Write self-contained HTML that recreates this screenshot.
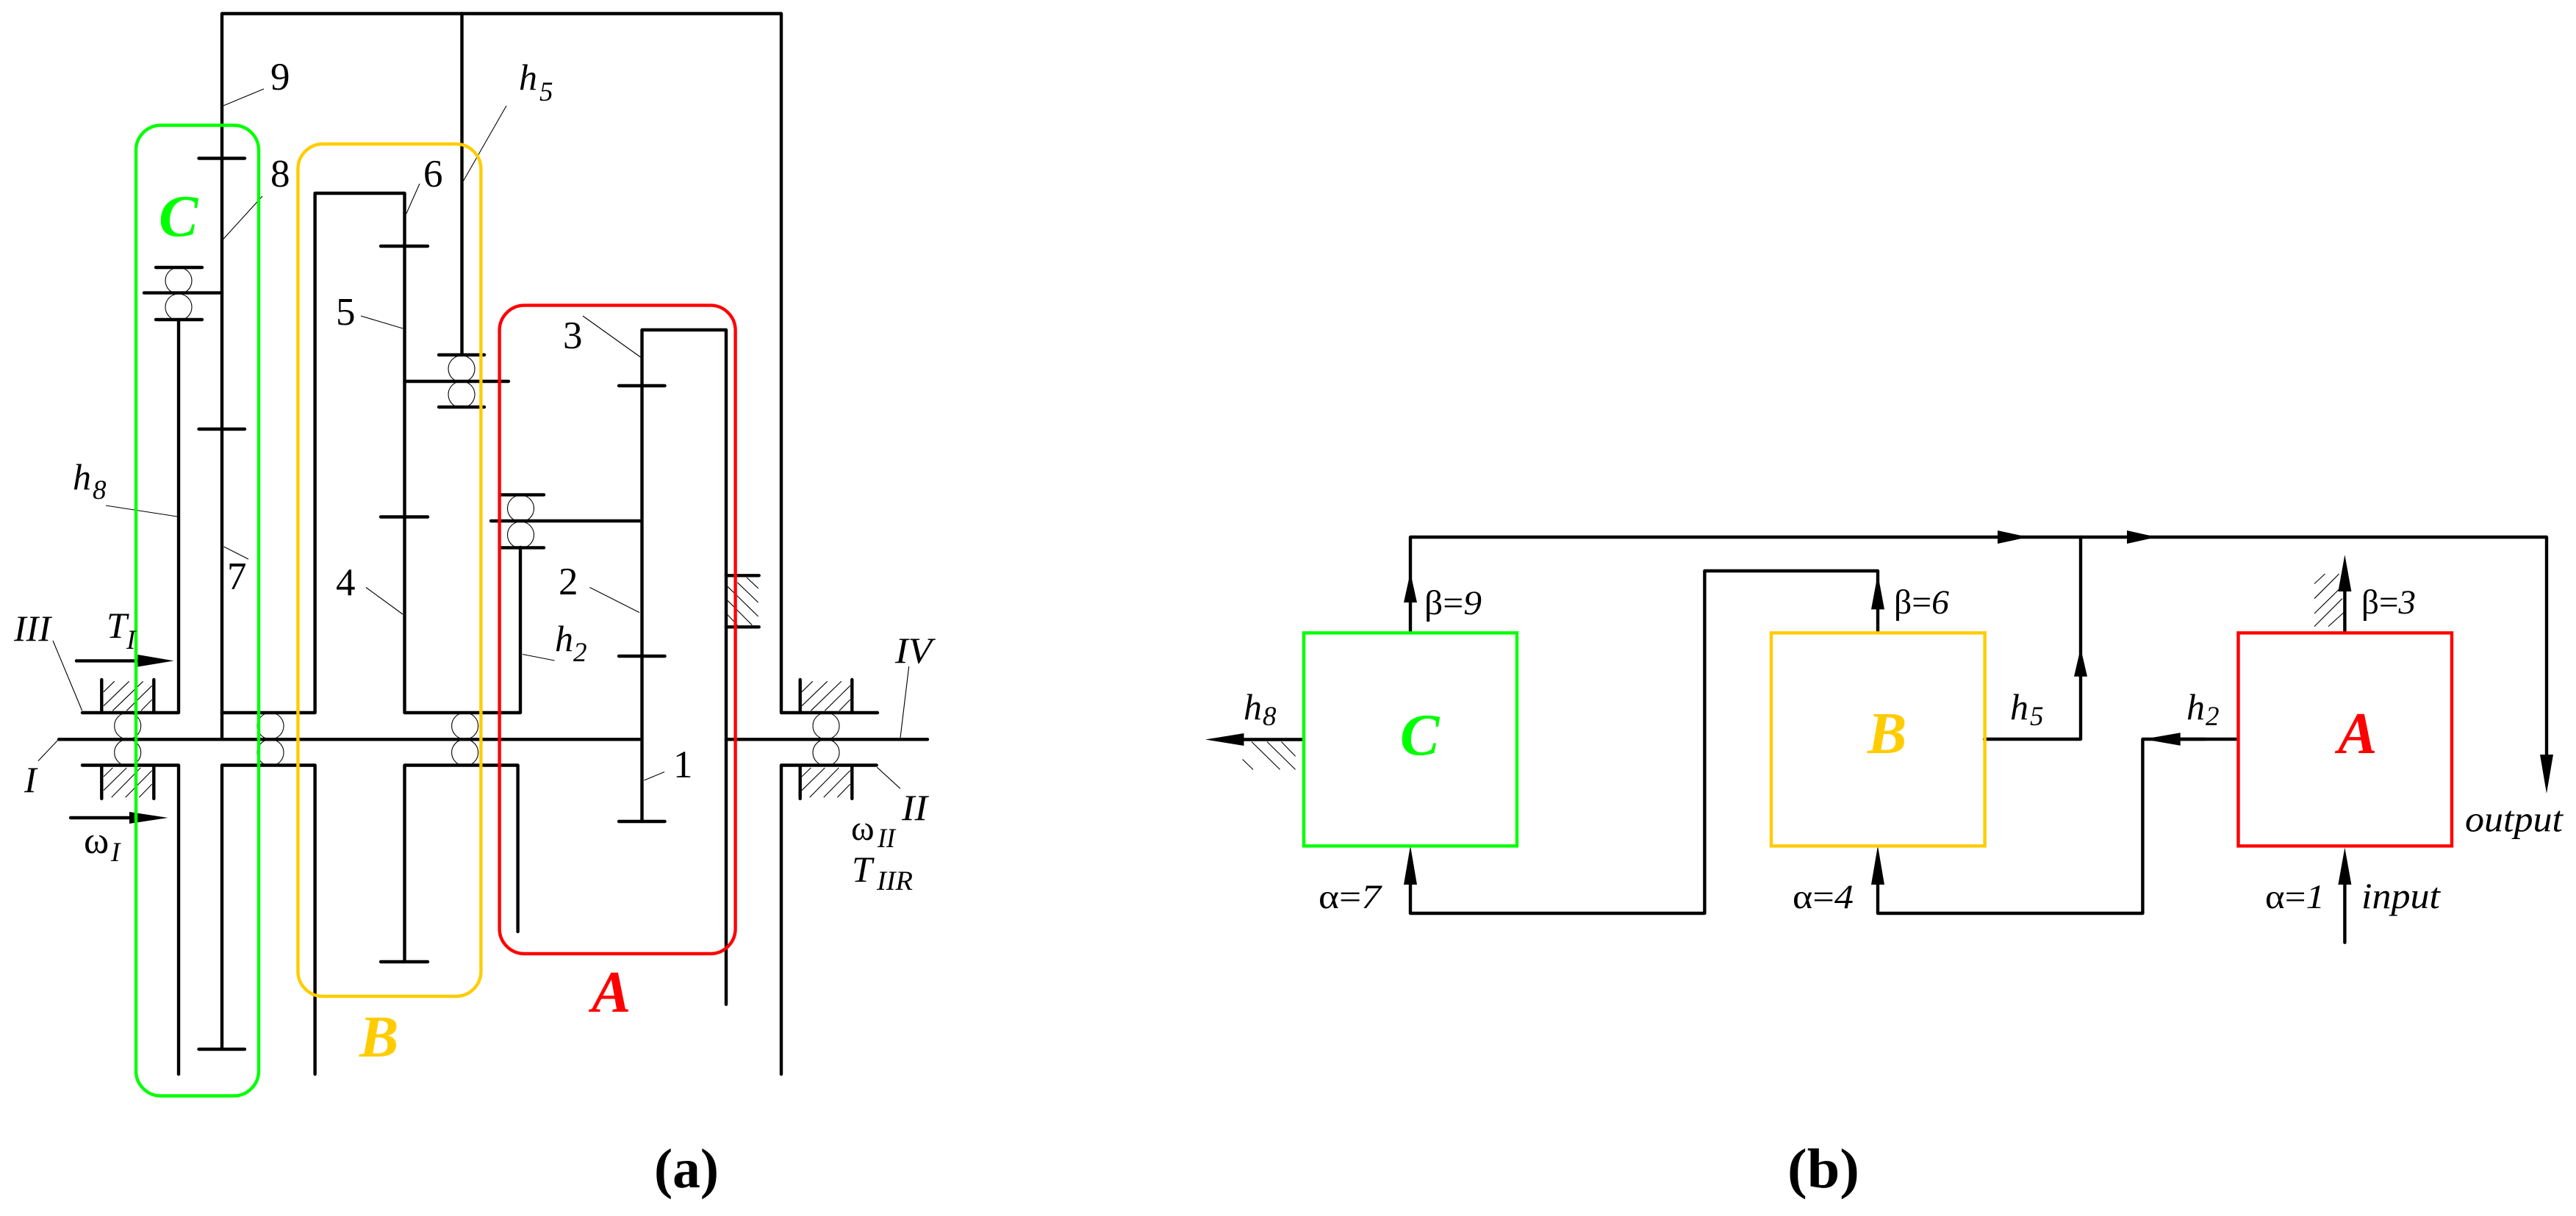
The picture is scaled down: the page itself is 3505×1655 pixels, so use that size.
<!DOCTYPE html>
<html><head><meta charset="utf-8"><style>
html,body{margin:0;padding:0;background:#fff}
svg{display:block}
text{font-family:"Liberation Serif",serif;fill:#000}
.k{fill:none;stroke:#000;stroke-width:4.4;stroke-linecap:round;stroke-linejoin:round}
.t{fill:none;stroke:#000;stroke-width:1.1}
.i{font-style:italic}
.n{font-size:53px}
.m{font-size:50px;font-style:italic}
.s{font-size:37px;font-style:italic}
.g{font-size:80px;font-style:italic;font-weight:bold}
</style></head><body>
<svg xmlns="http://www.w3.org/2000/svg" width="3505" height="1655" viewBox="0 0 3505 1655">
<!-- (a) black structure -->
<g class="k">
<polyline points="302,1006 302,970 302,18.5 1063,18.5 1063,970 1194,970"/>
<line x1="628.5" y1="18.5" x2="628.5" y2="483"/>
<polyline points="302,970 428.6,970 428.6,263 550.5,263 550.5,970 708,970 708,745"/>
<polyline points="112,970 243,970 243,435"/>
<polyline points="112,1041.5 243,1041.5 243,1462"/>
<polyline points="333,1428 270.5,1428 302,1428 302,1041.5 428.6,1041.5 428.6,1462"/>
<polyline points="550.5,1309 550.5,1041.5 704.6,1041.5 704.6,1268"/>
<line x1="518" y1="1309" x2="582" y2="1309"/>
<line x1="80" y1="1006.3" x2="870" y2="1006.3"/>
<line x1="988" y1="1006.3" x2="1262" y2="1006.3"/>
<polyline points="1192.7,1041.5 1063,1041.5 1063,1462"/>
<polyline points="873.5,1118 873.5,449 988,449 988,1367"/>
<line x1="842" y1="525" x2="904.6" y2="525"/>
<line x1="842" y1="893" x2="904.6" y2="893"/>
<line x1="842" y1="1118" x2="904.6" y2="1118"/>
<line x1="668" y1="709" x2="873" y2="709"/>
<line x1="682" y1="673.4" x2="740" y2="673.4"/>
<line x1="682" y1="745.4" x2="740" y2="745.4"/>
<line x1="597" y1="483" x2="659" y2="483"/>
<line x1="597" y1="554" x2="659" y2="554"/>
<line x1="550.5" y1="519" x2="692" y2="519"/>
<line x1="212" y1="364" x2="275" y2="364"/>
<line x1="212" y1="435" x2="275" y2="435"/>
<line x1="196" y1="398.6" x2="302" y2="398.6"/>
<line x1="270.5" y1="215.5" x2="333" y2="215.5"/>
<line x1="270.5" y1="584" x2="333" y2="584"/>
<line x1="518" y1="335" x2="582" y2="335"/>
<line x1="518" y1="703.5" x2="582" y2="703.5"/>
<line x1="988" y1="783.3" x2="1032.7" y2="783.3"/>
<line x1="988" y1="853.3" x2="1032.7" y2="853.3"/>
<line x1="138.3" y1="925" x2="138.3" y2="970"/>
<line x1="209.3" y1="925" x2="209.3" y2="970"/>
<line x1="138.3" y1="1042" x2="138.3" y2="1087"/>
<line x1="209.3" y1="1042" x2="209.3" y2="1087"/>
<line x1="1088.7" y1="925" x2="1088.7" y2="970"/>
<line x1="1159.3" y1="925" x2="1159.3" y2="970"/>
<line x1="1088.7" y1="1042" x2="1088.7" y2="1087"/>
<line x1="1159.3" y1="1042" x2="1159.3" y2="1087"/>
<line x1="104" y1="899.4" x2="200" y2="899.4"/>
<line x1="96" y1="1113" x2="190" y2="1113"/>
</g>
<polygon points="187.5,891 236.6,899.4 187.5,907.5" fill="#000"/>
<polygon points="176,1105 228.6,1113 176,1121" fill="#000"/>
<!-- bearings -->
<g class="t">
<circle cx="243" cy="382" r="18"/><circle cx="243" cy="418" r="18"/>
<circle cx="628" cy="502" r="18"/><circle cx="628" cy="537" r="18"/>
<circle cx="708.5" cy="692" r="18"/><circle cx="708.5" cy="728" r="18"/>
<circle cx="173.7" cy="988" r="18"/><circle cx="173.7" cy="1024.3" r="18"/>
<circle cx="368" cy="988" r="18"/><circle cx="368" cy="1024.3" r="18"/>
<circle cx="632.6" cy="988" r="18"/><circle cx="632.6" cy="1024.3" r="18"/>
<circle cx="1124" cy="988" r="18"/><circle cx="1124" cy="1024.3" r="18"/>
<!-- hatching -->
<g>
<path d="M141 941.7L155.7 927.3M141 960.7L175.7 927.3M153.3 967.3L194.7 927.3M172.3 967.3L206.7 933.3M192 967.3L206.7 952.3"/>
<path d="M141 1057L153.3 1045M141 1075.7L172.3 1045M151.7 1085.3L191.3 1045M170.7 1085.3L206.7 1048.7M189.3 1085.3L206.7 1067.3"/>
</g>
<g transform="translate(950 0)">
<path d="M141 941.7L155.7 927.3M141 960.7L175.7 927.3M153.3 967.3L194.7 927.3M172.3 967.3L206.7 933.3M192 967.3L206.7 952.3"/>
<path d="M141 1057L153.3 1045M141 1075.7L172.3 1045M151.7 1085.3L191.3 1045M170.7 1085.3L206.7 1048.7M189.3 1085.3L206.7 1067.3"/>
</g>
<path d="M1016 786L1031.7 800.7M1003.3 792.7L1031.7 820M990 798.3L1031.7 839M990 817.3L1023.3 850.7M990 836.7L1003.3 850.7"/>
<!-- leaders -->
<path d="M303.6 144L359 121M303.6 325.6L357 267M552.7 291L571 250M630.6 246L689 144M491 430L548 447M144 688L241 703M304.5 744L338 761M498 799.5L548 836M72 872L111.6 967M52 1035.6L80 1006M793 430L871.4 486M802.5 799.5L870 833.6M711 890.5L754.6 899M876.5 1062L904 1050.6M1236.7 907L1225 1004M1193.3 1044.3L1225 1073.3"/>
<!-- (b) hatching -->
<path d="M1703 1009.5L1741.6 1047.4M1724 1009.5L1762.6 1047.4M1743.5 1009.5L1762.6 1029.3M1690.6 1033.5L1705 1047.4"/>
<path d="M3149 794.5L3163.5 781M3149 814.7L3182.7 781M3149 835L3182.7 802M3149 852.6L3187 814.7M3168 852.6L3189 833.6"/>
</g>
<!-- coloured groups -->
<rect x="185" y="170.5" width="167" height="1321" rx="34" ry="34" fill="none" stroke="#00ff00" stroke-width="4.4"/>
<rect x="405.4" y="196" width="249" height="1160" rx="34" ry="34" fill="none" stroke="#ffcc00" stroke-width="4.4"/>
<rect x="679.6" y="415.6" width="321" height="882.4" rx="34" ry="34" fill="none" stroke="#ff0000" stroke-width="4.4"/>
<!-- (a) labels -->
<text class="n" x="368" y="122">9</text>
<text class="n" x="368" y="254">8</text>
<text class="n" x="576" y="254">6</text>
<text class="n" x="457" y="442">5</text>
<text class="n" x="309" y="802">7</text>
<text class="n" x="457" y="810">4</text>
<text class="n" x="766" y="474">3</text>
<text class="n" x="760" y="809">2</text>
<text class="n" x="916" y="1058">1</text>
<text class="m" x="99" y="666">h</text><text class="s" x="126" y="679">8</text>
<text class="m" x="706" y="122">h</text><text class="s" x="734" y="137">5</text>
<text class="m" x="755" y="886">h</text><text class="s" x="780" y="900">2</text>
<text class="g" x="216" y="321" style="fill:#00ff00">C</text>
<text class="g" x="489" y="1438" style="fill:#ffcc00">B</text>
<text class="g" x="805" y="1377" style="fill:#ff0000">A</text>
<text class="m" x="19" y="872" textLength="50" lengthAdjust="spacingAndGlyphs">III</text>
<text class="m" x="145" y="868">T</text><text class="s" x="172" y="883">I</text>
<text class="m" x="33" y="1078">I</text>
<text x="114" y="1161" font-size="52">ω</text><text class="s" x="151" y="1172">I</text>
<text class="m" x="1218" y="902" textLength="50" lengthAdjust="spacingAndGlyphs">IV</text>
<text class="m" x="1227" y="1116" textLength="35" lengthAdjust="spacingAndGlyphs">II</text>
<text x="1158" y="1143" font-size="48">ω</text><text class="s" x="1194" y="1153" textLength="24" lengthAdjust="spacingAndGlyphs">II</text>
<text class="m" x="1159" y="1200">T</text><text class="s" x="1193" y="1211" textLength="49" lengthAdjust="spacingAndGlyphs">IIR</text>
<text x="890" y="1616" font-size="76" font-weight="bold" textLength="88" lengthAdjust="spacingAndGlyphs">(a)</text>
<text x="2432" y="1616" font-size="76" font-weight="bold" textLength="98" lengthAdjust="spacingAndGlyphs">(b)</text>
<!-- (b) connectors -->
<g class="k">
<polyline points="1919,861 1919,731 3465,731 3465,1050"/>
<polyline points="1919,1180 1919,1243 2319.4,1243 2319.4,777 2555,777 2555,861"/>
<polyline points="2555,1180 2555,1243 2915.4,1243 2915.4,1006 3000,1006"/>
<line x1="2966" y1="1006" x2="3045" y2="1006"/>
<polyline points="2700,1006 2831,1006 2831,731"/>
<line x1="3190.4" y1="861" x2="3190.4" y2="790"/>
<line x1="3190.4" y1="1282.7" x2="3190.4" y2="1190"/>
<line x1="1774" y1="1006.5" x2="1680" y2="1006.5"/>
</g>
<g fill="#000">
<polygon points="1910,820 1919,779 1928,820"/>
<polygon points="1910,1204 1919,1151 1928,1204"/>
<polygon points="2546,829.4 2555,781 2564,829.4"/>
<polygon points="2546,1204 2555,1151 2564,1204"/>
<polygon points="2822,920.7 2831,882 2840,920.7"/>
<polygon points="3181.4,805 3190.4,755 3199.4,805"/>
<polygon points="3181.4,1204 3190.4,1153.5 3199.4,1204"/>
<polygon points="3456,1027 3465,1080 3474,1027"/>
<polygon points="2718,722 2759.6,731 2718,740"/>
<polygon points="2894,722 2934.6,731 2894,740"/>
<polygon points="2966.7,997.3 2916.7,1006 2966.7,1014.7"/>
<polygon points="1692.5,998 1640,1006.5 1692.5,1015"/>
</g>
<!-- (b) boxes -->
<rect x="1774" y="861.4" width="290" height="290" fill="none" stroke="#00ff00" stroke-width="4.4"/>
<rect x="2410" y="861.4" width="290.6" height="290" fill="none" stroke="#ffcc00" stroke-width="4.4"/>
<rect x="3045.5" y="861.4" width="290.5" height="290" fill="none" stroke="#ff0000" stroke-width="4.4"/>
<text class="g" x="1905" y="1027" style="fill:#00ff00">C</text>
<text class="g" x="2541" y="1025" style="fill:#ffcc00">B</text>
<text class="g" x="3181" y="1025" style="fill:#ff0000">A</text>
<!-- (b) labels -->
<g font-size="47">
<text x="1938" y="836" textLength="78" lengthAdjust="spacingAndGlyphs">β=<tspan class="i">9</tspan></text>
<text x="2577" y="835" textLength="75" lengthAdjust="spacingAndGlyphs">β=<tspan class="i">6</tspan></text>
<text x="3213" y="835" textLength="74" lengthAdjust="spacingAndGlyphs">β=<tspan class="i">3</tspan></text>
<text x="1794" y="1236" textLength="85" lengthAdjust="spacingAndGlyphs">α=<tspan class="i">7</tspan></text>
<text x="2439" y="1236" textLength="83" lengthAdjust="spacingAndGlyphs">α=<tspan class="i">4</tspan></text>
<text x="3082" y="1236" textLength="81" lengthAdjust="spacingAndGlyphs">α=<tspan class="i">1</tspan></text>
</g>
<text class="m" x="3213" y="1236" textLength="107" lengthAdjust="spacingAndGlyphs">input</text>
<text class="m" x="3354" y="1131.6" textLength="133" lengthAdjust="spacingAndGlyphs">output</text>
<text class="m" x="1692" y="979">h</text><text class="s" x="1718" y="987">8</text>
<text class="m" x="2735" y="979">h</text><text class="s" x="2762" y="987">5</text>
<text class="m" x="2975" y="979">h</text><text class="s" x="3001" y="987">2</text>
</svg>
</body></html>
